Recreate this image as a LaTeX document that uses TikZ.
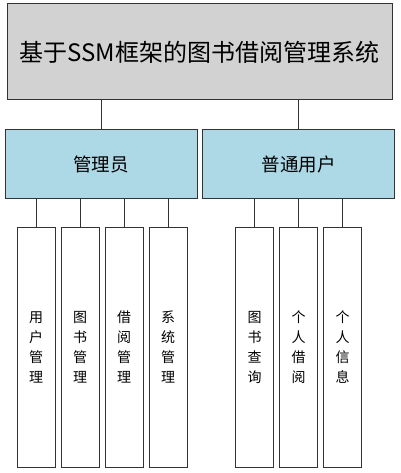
\documentclass[tikz,border=0pt]{standalone}
\usepackage{fontspec}
\setmainfont{Noto Sans CJK SC}
\definecolor{rolefill}{HTML}{ADD8E6}
\definecolor{edge}{HTML}{333333}
\tikzset{
  box/.style={draw=edge, line width=1pt, inner sep=0pt, align=center},
  root/.style={box, fill=gray!35, minimum width=385pt, minimum height=96pt,
    font=\fontsize{24}{28}\selectfont},
  role/.style={box, fill=rolefill, minimum width=192pt, minimum height=68pt,
    font=\fontsize{18.5}{22}\selectfont},
  leaf/.style={box, fill=white, minimum width=38pt, minimum height=240pt,
    font=\fontsize{14}{20}\selectfont}
}
\begin{document}
\begin{tikzpicture}[x=1pt, y=-1pt]
  \useasboundingbox (0,0) rectangle (400,473);
  \draw
    (199.5,52) node[root] (sys){基于SSM框架的图书借阅管理系统}
    (101,164) node[role] (admin){管理员}
    (298.5,164) node[role] (user){普通用户}
    (36,347) node[leaf] (a1){用\\户\\管\\理}
    (80,347) node[leaf] (a2){图\\书\\管\\理}
    (124,347) node[leaf] (a3){借\\阅\\管\\理}
    (168,347) node[leaf] (a4){系\\统\\管\\理}
    (254.5,347) node[leaf] (u1){图\\书\\查\\询}
    (298.5,347) node[leaf] (u2){个\\人\\借\\阅}
    (342.5,347) node[leaf] (u3){个\\人\\信\\息};
  \begin{scope}[draw=edge, line width=1pt]
    \draw (admin.north) to (admin.north |- sys.south);
    \draw (user.north) to (user.north |- sys.south);
    \draw (a1.north) to (a1.north |- admin.south);
    \draw (a2.north) to (a2.north |- admin.south);
    \draw (a3.north) to (a3.north |- admin.south);
    \draw (a4.north) to (a4.north |- admin.south);
    \draw (u1.north) to (u1.north |- user.south);
    \draw (u2.north) to (u2.north |- user.south);
    \draw (u3.north) to (u3.north |- user.south);
  \end{scope}
\end{tikzpicture}
\end{document}
